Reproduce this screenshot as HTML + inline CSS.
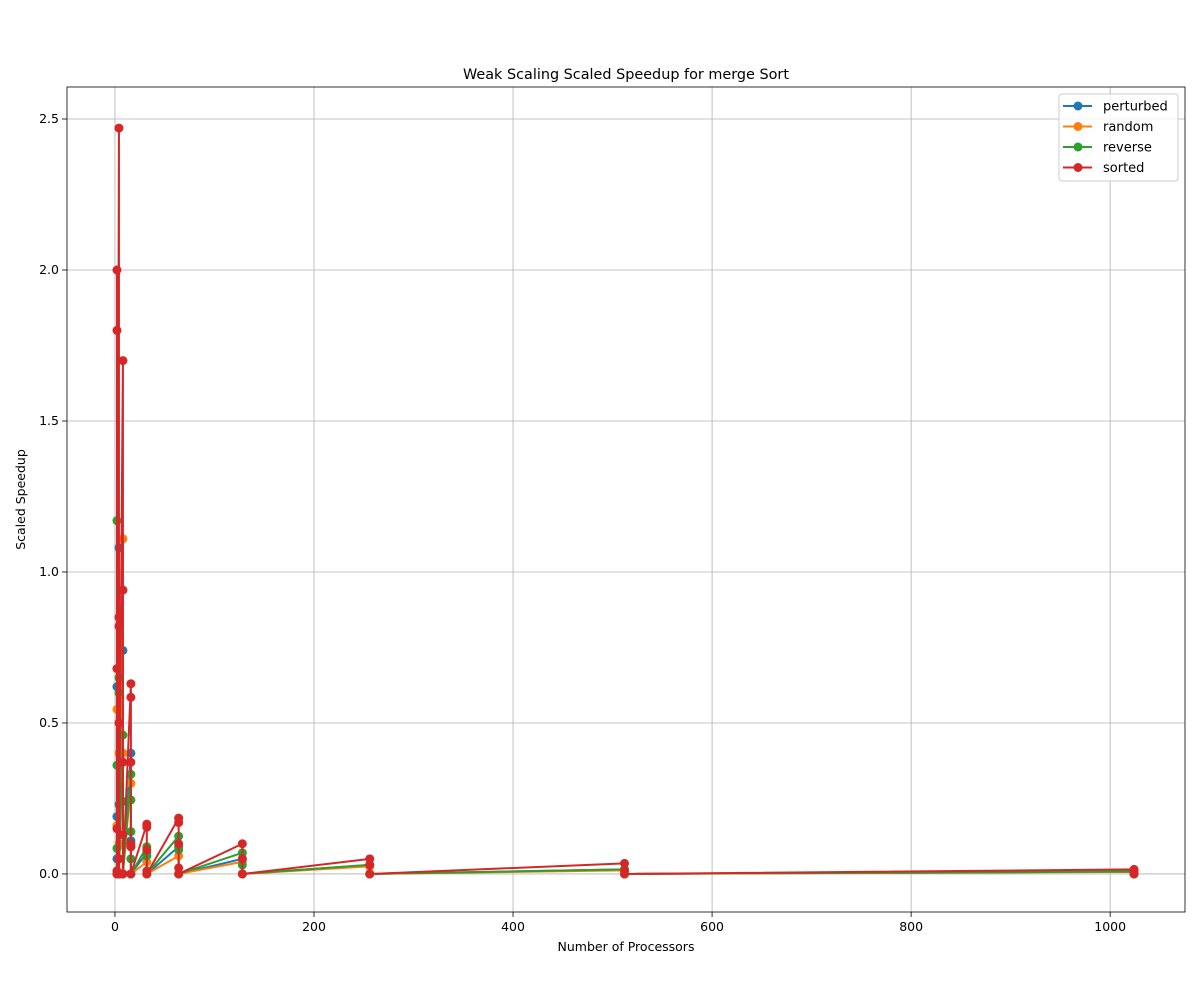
<!DOCTYPE html>
<html><head><meta charset="utf-8"><style>
body{margin:0;background:#fff;font-family:"Liberation Sans","DejaVu Sans",sans-serif;}
text{font-family:"DejaVu Sans","Liberation Sans",sans-serif;}
</style></head><body>
<svg id="chart" width="1200" height="1000" viewBox="0 0 1200 1000" xmlns="http://www.w3.org/2000/svg"></svg>
<script>
const xTicks=[0,200,400,600,800,1000];
const yTicks=[0.0,0.5,1.0,1.5,2.0,2.5];
const yTickLabels=["0.0","0.5","1.0","1.5","2.0","2.5"];
const seriesNames=["perturbed","random","reverse","sorted"];
const seriesColors=["#1f77b4","#ff7f0e","#2ca02c","#d62728"];
const perturbedX=[2,2,2,2,4,4,4,8,8,8,16,16,16,32,32,64,64,128,128,256,256,512,512,1024,1024];
const perturbedY=[0.62,0.19,0.05,0.0,1.08,0.23,0.0,0.74,0.4,0.0,0.4,0.11,0.0,0.07,0.0,0.09,0.0,0.05,0.0,0.03,0.0,0.015,0.0,0.008,0.0];
const randomX=[2,2,2,4,4,4,8,8,8,16,16,16,32,32,64,64,128,128,256,256,512,512,1024,1024];
const randomY=[0.545,0.16,0.0,0.4,0.1,0.0,1.11,0.4,0.0,0.3,0.09,0.0,0.04,0.0,0.06,0.0,0.04,0.0,0.025,0.0,0.012,0.0,0.007,0.0];
const reverseX=[2,2,2,2,4,4,4,4,8,8,8,16,16,16,16,16,32,32,32,64,64,64,128,128,128,256,256,512,512,1024,1024];
const reverseY=[1.17,0.36,0.085,0.0,0.65,0.6,0.05,0.0,0.46,0.24,0.0,0.33,0.245,0.14,0.05,0.0,0.09,0.06,0.0,0.125,0.08,0.0,0.07,0.03,0.0,0.03,0.0,0.015,0.0,0.008,0.0];
const sortedX=[2,2,2,2,2,2,4,4,4,4,4,4,8,8,8,8,8,16,16,16,16,16,16,32,32,32,32,32,64,64,64,64,64,128,128,128,256,256,256,512,512,512,1024,1024,1024];
const sortedY=[0.68,2.0,1.8,0.15,0.01,0.0,2.47,0.85,0.82,0.5,0.05,0.0,1.7,0.94,0.37,0.13,0.0,0.63,0.585,0.37,0.1,0.09,0.0,0.165,0.155,0.08,0.01,0.0,0.185,0.17,0.1,0.02,0.0,0.1,0.05,0.0,0.05,0.03,0.0,0.035,0.01,0.0,0.015,0.005,0.0];
const seriesX=[perturbedX,randomX,reverseX,sortedX];
const seriesY=[perturbedY,randomY,reverseY,sortedY];

const L=67,R=1185,T=87,B=912;
const xMin=-48.2,xMax=1075.2,yMin=-0.126,yMax=2.606;
const sx=v=>L+(v-xMin)/(xMax-xMin)*(R-L);
const sy=v=>B-(v-yMin)/(yMax-yMin)*(B-T);
const svg=document.getElementById('chart');
const NS="http://www.w3.org/2000/svg";
function mk(tag,attrs,parent){const e=document.createElementNS(NS,tag);for(const k in attrs)e.setAttribute(k,attrs[k]);(parent||svg).appendChild(e);return e;}

const grid=mk('g',{});


xTicks.forEach(t=>{const x=sx(t);
  mk('line',{x1:x,x2:x,y1:T,y2:B,stroke:'#b0b0b0','stroke-width':0.8},grid);
  mk('line',{x1:x,x2:x,y1:B,y2:B+5,stroke:'#000','stroke-width':0.8});
  const tx=mk('text',{x:x,y:B+19,'font-size':12.5,'text-anchor':'middle',fill:'#000'});tx.textContent=t;
  
  
});
yTicks.forEach((t,i)=>{const y=sy(t);
  mk('line',{x1:L,x2:R,y1:y,y2:y,stroke:'#b0b0b0','stroke-width':0.8},grid);
  mk('line',{x1:L-5,x2:L,y1:y,y2:y,stroke:'#000','stroke-width':0.8});
  const tx=mk('text',{x:L-8,y:y+4,'font-size':12.5,'text-anchor':'end',fill:'#000'});tx.textContent=yTickLabels[i];
  
  
});
const clip=mk('clipPath',{id:'pc'});mk('rect',{x:L,y:T,width:R-L,height:B-T},clip);
seriesNames.forEach((n,s)=>{
  const g=mk('g',{'clip-path':'url(#pc)'});
  
  
  const pts=seriesX[s].map((x,i)=>sx(x)+','+sy(seriesY[s][i])).join(' ');
  mk('polyline',{points:pts,fill:'none',stroke:seriesColors[s],'stroke-width':2,'stroke-linejoin':'round'},g);
  seriesX[s].forEach((x,i)=>{const c=mk('circle',{cx:sx(x),cy:sy(seriesY[s][i]),r:4.5,fill:seriesColors[s]},g);
    
    });
});
const frame=mk('rect',{x:L,y:T,width:R-L,height:B-T,fill:'none',stroke:'#000','stroke-width':0.8});


const title=mk('text',{x:(L+R)/2,y:79,'font-size':14.4,'text-anchor':'middle'});title.textContent='Weak Scaling Scaled Speedup for merge Sort';


const xl=mk('text',{x:(L+R)/2,y:951,'font-size':12.5,'text-anchor':'middle'});xl.textContent='Number of Processors';


const yl=mk('text',{x:0,y:0,'font-size':12.5,'text-anchor':'middle',transform:'translate(25,'+((T+B)/2)+') rotate(-90)'});yl.textContent='Scaled Speedup';


const lg=mk('g',{});


mk('rect',{x:1059,y:94,width:119,height:87,rx:3,fill:'#fff','fill-opacity':0.8,stroke:'#ccc'},lg);
seriesNames.forEach((n,s)=>{const y=106+s*20.5;
  const e=mk('g',{},lg);
  
  
  mk('line',{x1:1063,x2:1092,y1:y,y2:y,stroke:seriesColors[s],'stroke-width':2},e);
  mk('circle',{cx:1078,cy:y,r:4.5,fill:seriesColors[s]},e);
  const t=mk('text',{x:1103,y:y+4.5,'font-size':13},e);t.textContent=n;});
</script>
</body></html>
